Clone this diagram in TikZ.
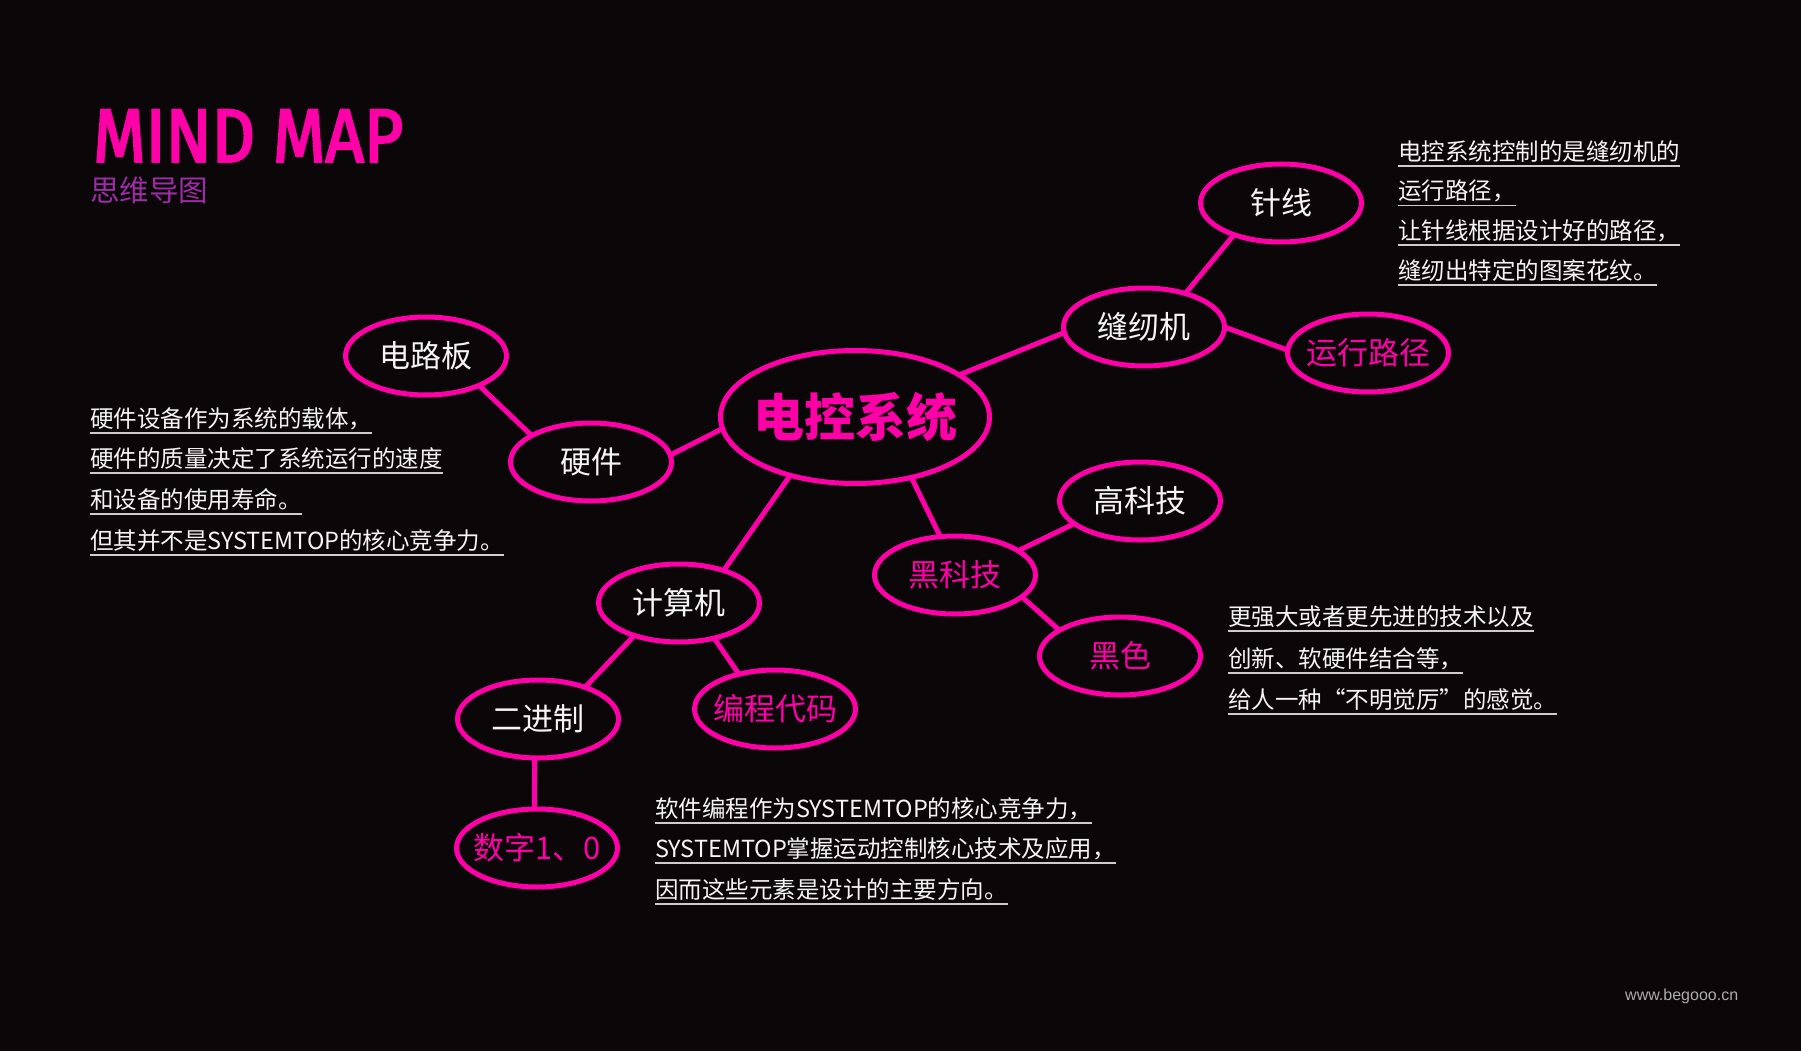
\documentclass[tikz,border=0pt]{standalone}
\usepackage{fontspec}
\usepackage{graphicx}
\setmainfont{Noto Sans CJK SC}
\newfontfamily\titlefont{Fira Sans}[FakeBold=3]
\newfontfamily\webfont{Liberation Sans}
\usetikzlibrary{shapes.geometric}
\definecolor{bg}{RGB}{11,6,8}
\definecolor{mag}{RGB}{255,0,168}
\definecolor{pur}{RGB}{155,45,165}
\definecolor{ul}{RGB}{205,205,205}
\definecolor{tx}{RGB}{245,245,245}
\newcommand\etx[1]{\smash{\makebox[0pt]{\raisebox{-0.38em}{#1}}}}
\begin{document}
\begin{tikzpicture}[x=1pt,y=-1pt,
  bub/.style={ellipse,draw=mag,line width=5pt,minimum width=161pt,minimum height=78pt,inner sep=0pt,outer sep=0pt,font=\fontsize{31}{31}\selectfont},
  big/.style={bub,minimum width=269pt,minimum height=133pt,font=\fontsize{51}{51}\selectfont\bfseries},
  wt/.style={text=tx}, mt/.style={text=mag},
  link/.style={draw=mag,line width=5pt},
  note/.style={anchor=base west,inner sep=0pt,outer sep=0pt,text=tx,font=\fontsize{23.5}{23.5}\selectfont},
  uline/.style={draw=ul,line width=1.8pt}]
\fill[bg] (0,0) rectangle (1801,1051);
\useasboundingbox (0,0) rectangle (1801,1051);

% title
\node[anchor=south west,inner sep=0pt,text=mag] (title) at (93,162) {\resizebox{310pt}{52pt}{\titlefont MIND MAP}};
\node[anchor=base west,inner sep=0pt,text=pur,text height=0.8em,text depth=0.08em,font=\fontsize{29.5}{29.5}\selectfont] (subtitle) at (90,201) {思维导图};

% bubbles
\node[big,mt] (ec) at (855,417) {\etx{电控系统}};
\node[bub,wt] (yj) at (591,462) {\etx{硬件}};
\node[bub,wt] (dlb) at (426,356) {\etx{电路板}};
\node[bub,wt] (jsj) at (679,603) {\etx{计算机}};
\node[bub,wt] (ejz) at (538,719) {\etx{二进制}};
\node[bub,mt] (bcdm) at (775,709) {\etx{编程代码}};
\node[bub,mt] (sz) at (537,848) {\etx{数字1、0}};
\node[bub,mt] (hkj) at (955,575) {\etx{黑科技}};
\node[bub,wt] (gkj) at (1140,501) {\etx{高科技}};
\node[bub,mt] (hs) at (1120,656) {\etx{黑色}};
\node[bub,wt] (frj) at (1144,327) {\etx{缝纫机}};
\node[bub,wt] (zx) at (1281,203) {\etx{针线}};
\node[bub,mt] (yxlj) at (1368,353) {\etx{运行路径}};

% links
\draw[link] (yj.5) -- (ec.185);
\draw[link] (yj.156) -- (dlb.331);
\draw[link] (ec.222) -- (jsj.36);
\draw[link] (jsj.216) -- (ejz.34);
\draw[link] (jsj.315) -- (bcdm.136);
\draw[link] (ejz.265) -- (sz.94);
\draw[link] (ec.313) -- (hkj.111);
\draw[link] (hkj.21) -- (gkj.199);
\draw[link] (hkj.342) -- (hs.157);
\draw[link] (ec.22) -- (frj.184);
\draw[link] (frj.39) -- (zx.214);
\draw[link] (frj.0) -- (yxlj.178);

% left note
\node[note] (a1) at (90,427.5) {硬件设备作为系统的载体，};
\node[note] (a2) at (90,467.5) {硬件的质量决定了系统运行的速度};
\node[note] (a3) at (90,508.5) {和设备的使用寿命。};
\node[note] (a4) at (90,549.5) {但其并不是SYSTEMTOP的核心竞争力。};
% top right note
\node[note] (b1) at (1398,160.5) {电控系统控制的是缝纫机的};
\node[note] (b2) at (1398,200) {运行路径，};
\node[note] (b3) at (1398,239.5) {让针线根据设计好的路径，};
\node[note] (b4) at (1398,279.5) {缝纫出特定的图案花纹。};
% middle right note
\node[note] (c1) at (1228,625.5) {更强大或者更先进的技术以及};
\node[note] (c2) at (1228,667.5) {创新、软硬件结合等，};
\node[note] (c3) at (1228,708.5) {给人一种“不明觉厉”的感觉。};
% bottom note
\node[note] (d1) at (655,817.5) {软件编程作为SYSTEMTOP的核心竞争力，};
\node[note] (d2) at (655,857.5) {SYSTEMTOP掌握运动控制核心技术及应用，};
\node[note] (d3) at (655,898.5) {因而这些元素是设计的主要方向。};

\foreach \n in {a1,a2,a3,a4,b1,b2,b3,b4,c1,c2,c3,d1,d2,d3}
  \draw[uline] ([yshift=-5.5pt]\n.base west) -- ([yshift=-5.5pt]\n.base east);

% watermark
\node[anchor=base west,inner sep=0pt,text=white!68!black,font=\webfont\fontsize{16}{16}\selectfont] (web) at (1625,1000) {www.begooo.cn};
\end{tikzpicture}
\end{document}
